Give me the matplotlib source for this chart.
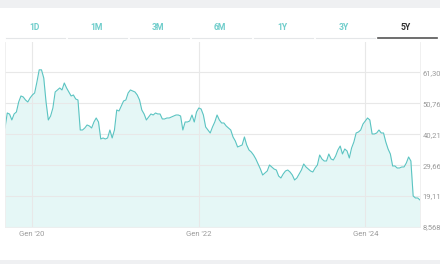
import numpy as np
import pandas as pd
from matplotlib import pyplot as plt
import matplotlib.dates as mdates

# prices, one every 10 days from Sep 2019
prices = [42.36, 47.48, 47.1, 45.09, 47.14, 47.82, 51.23, 53.28, 52.94, 51.91,
          51.23, 52.6, 53.62, 54.3, 58.06, 62.2, 62.2, 59.4, 51.23, 45.09,
          46.45, 49.18, 54.64, 55.33, 56.01, 55.33, 57.72, 56.01, 54.64, 53.28,
          53.62, 52.26, 51.91, 41.67, 41.67, 42.36, 43.38, 43.04, 42.36, 44.4,
          45.77, 44.4, 38.6, 38.95, 38.6, 38.95, 41.67, 38.95, 41.67, 48.5,
          48.16, 49.86, 51.57, 51.91, 54.3, 55.33, 54.98, 54.64, 53.62, 51.91,
          48.5, 47.14, 45.09, 46.11, 47.14, 46.79, 47.48, 47.14, 47.14, 45.43,
          45.43, 45.77, 45.77, 46.11, 46.45, 46.79, 46.79, 46.45, 41.67, 44.4,
          44.4, 44.75, 46.79, 44.4, 47.82, 49.18, 48.84, 46.79, 42.7, 41.67,
          40.65, 42.7, 44.4, 46.79, 45.09, 44.06, 44.06, 43.04, 42.36, 41.67,
          39.29, 37.92, 35.87, 36.2, 36.55, 39.29, 36.55, 34.85, 34.17, 33.14,
          31.78, 30.07, 28.36, 26.31, 27.0, 27.68, 29.73, 29.05, 28.36, 28.02,
          25.97, 25.29, 26.65, 27.68, 28.02, 27.34, 26.31, 24.61, 25.29, 26.65,
          28.02, 30.07, 29.05, 28.36, 27.68, 27.34, 28.7, 29.73, 33.14, 31.78,
          31.09, 31.09, 33.48, 31.78, 31.43, 32.8, 34.85, 36.2, 33.48, 35.19,
          34.51, 32.12, 35.53, 37.58, 40.65, 40.99, 41.67, 43.72, 44.75, 45.77,
          45.09, 40.31, 40.31, 40.65, 41.67, 40.65, 40.65, 37.58, 35.19, 33.48,
          29.39, 29.39, 28.7, 28.7, 29.05, 29.05, 30.41, 32.46, 31.09, 19.15,
          18.47, 18.47, 17.78]
dates = pd.date_range('2019-09-04', periods=len(prices), freq='10D')

tabs = ['1D', '1M', '3M', '6M', '1Y', '3Y', '5Y']
yticks = [8.568, 19.11, 29.66, 40.21, 50.76, 61.30]
ytick_labels = ['8,568', '19,11', '29,66', '40,21', '50,76', '61,30']
xticks = ['2020-01-01', '2022-01-01', '2024-01-01']
xtick_labels = ["Gen '20", "Gen '22", "Gen '24"]

line_color = '#5bc4c2'
fill_color = '#e5f7f6'
grid_color = '#e8e8e8'
muted = '#9a9a9a'
narrow = ['Liberation Sans Narrow', 'Roboto', 'DejaVu Sans']

fig = plt.figure(figsize=(4.4, 2.64), dpi=100)
fig.patch.set_facecolor('white')

# grey bands top and bottom
fig.add_artist(plt.Rectangle((0, 1 - 8 / 264), 1, 8 / 264, transform=fig.transFigure,
                             color='#eff0f2', lw=0))
fig.add_artist(plt.Rectangle((0, 0), 1, 4 / 264, transform=fig.transFigure,
                             color='#eff0f2', lw=0))

# period tabs
tab_w = 62.0
for i, t in enumerate(tabs):
    x0 = 5 + i * tab_w
    sel = t == '5Y'
    fig.text((x0 + tab_w / 2 - 2) / 440, 1 - 28 / 264, t, ha='center', va='center',
             fontsize=6.2, fontweight='bold', family=narrow,
             color='#333333' if sel else '#6fcdcb')
    fig.add_artist(plt.Line2D([(x0 + 1) / 440, (x0 + tab_w - 2) / 440],
                              [1 - 37.5 / 264] * 2, transform=fig.transFigure,
                              color='#555555' if sel else '#e4e6e8',
                              lw=1.2 if sel else 0.8))

ax = fig.add_axes([5 / 440, 37 / 264, 415 / 440, 185 / 264])
ax.plot(dates, prices, color=line_color, lw=0.8)
ax.fill_between(dates, prices, 0, color=fill_color, lw=0)
ax.set_xlim(dates[0], dates[-1])
ax.set_ylim(8.568, 71.7)

ax.set_yticks(yticks)
ax.set_yticklabels(ytick_labels, family=narrow)
ax.yaxis.tick_right()
ax.set_xticks(pd.to_datetime(xticks))
ax.set_xticklabels(xtick_labels, family=narrow)
ax.tick_params(axis='both', length=0, labelsize=5.5, colors=muted)
ax.tick_params(axis='y', pad=2)
ax.tick_params(axis='x', pad=3)
ax.grid(True, color=grid_color, lw=0.8)
for g in ax.get_xgridlines() + ax.get_ygridlines():
    g.set_zorder(0.5)
for s in ax.spines.values():
    s.set_color('#eeeeee')
    s.set_linewidth(0.6)
ax.spines['top'].set_visible(False)

plt.savefig('out.png', dpi=100)
